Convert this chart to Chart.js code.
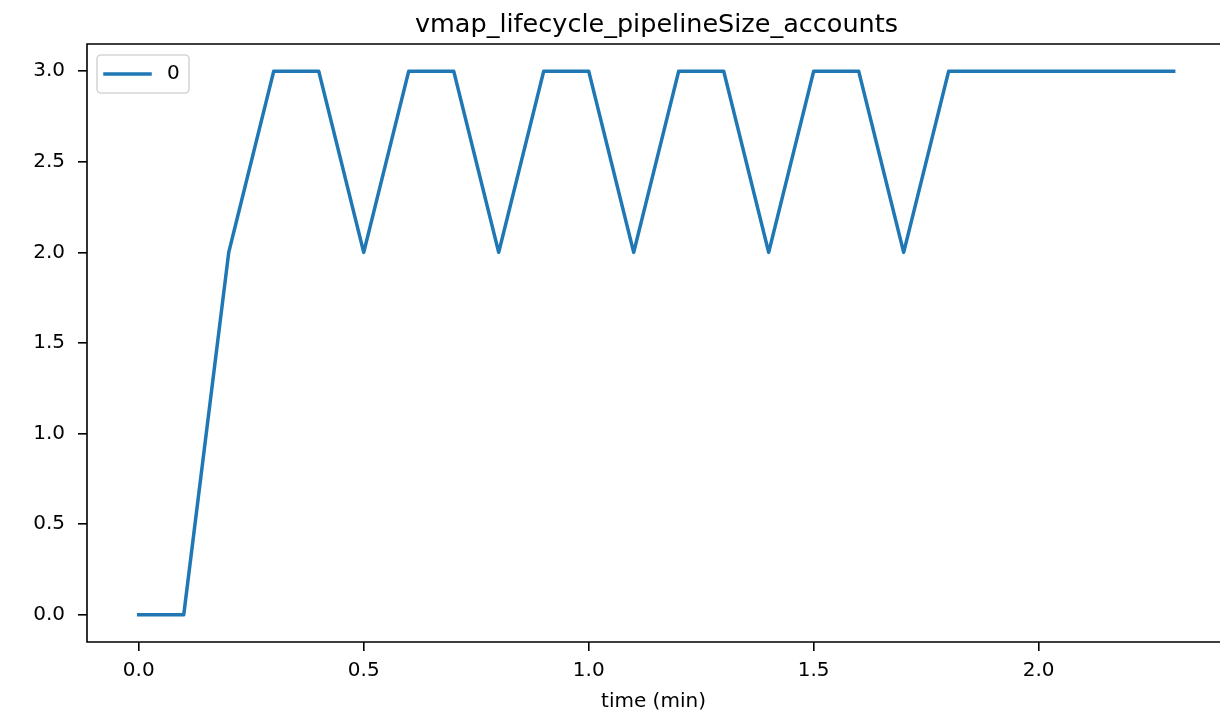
<!DOCTYPE html>
<html>
<head>
<meta charset="utf-8">
<script src="https://cdn.jsdelivr.net/npm/chart.js@4"></script>
<style>
  html, body { margin: 0; padding: 0; background: #fff; overflow: hidden; }
  #wrap { width: 1220px; height: 718px; }
</style>
</head>
<body>
<div id="wrap"><canvas id="chart"></canvas></div>
<script>
const TITLE = 'vmap_lifecycle_pipelineSize_accounts';
const X_LABEL = 'time (min)';
const SERIES_NAME = '0';

// time in minutes, one sample every 0.1 min
const TIMES = [0.0, 0.1, 0.2, 0.3, 0.4, 0.5, 0.6, 0.7, 0.8, 0.9, 1.0, 1.1,
               1.2, 1.3, 1.4, 1.5, 1.6, 1.7, 1.8, 1.9, 2.0, 2.1, 2.2, 2.3];
const SIZES = [0, 0, 2, 3, 3, 2, 3, 3, 2, 3, 3, 2,
               3, 3, 2, 3, 3, 2, 3, 3, 3, 3, 3, 3];

const X_TICKS = [0, 0.5, 1.0, 1.5, 2.0];
const Y_TICKS = [0, 0.5, 1.0, 1.5, 2.0, 2.5, 3.0];

const FONT = 'DejaVu Sans';
const LINE_COLOR = '#1f77b4';

// matplotlib style 5% margins; the original figure is cut off on the right
const xPad = (TIMES[TIMES.length - 1] - TIMES[0]) * 0.05;
const yPad = (Math.max(...SIZES) - Math.min(...SIZES)) * 0.05;
const X_VISIBLE_MAX = 2.403;

const frameAndLegend = {
  id: 'frameAndLegend',
  afterDraw(chart) {
    const { ctx, chartArea: a } = chart;
    ctx.save();

    // keep the right edge clean, the right spine is outside the picture
    ctx.fillStyle = '#fff';
    ctx.fillRect(a.right - 6, a.top + 2, 12, a.bottom - a.top - 4);

    // title centred over the axes
    ctx.fillStyle = '#000';
    ctx.font = '25.5px "' + FONT + '"';
    ctx.textAlign = 'center';
    ctx.textBaseline = 'alphabetic';
    ctx.fillText(TITLE, a.left + (a.right + 6 - a.left) / 2, 32);

    ctx.strokeStyle = '#000';
    ctx.lineWidth = 1.6;
    ctx.beginPath();
    ctx.moveTo(a.right + 2, a.top);
    ctx.lineTo(a.left, a.top);
    ctx.lineTo(a.left, a.bottom);
    ctx.lineTo(a.right + 2, a.bottom);
    ctx.stroke();

    // legend box, upper left
    const bx = a.left + 10, by = a.top + 11, bw = 92, bh = 38;
    ctx.beginPath();
    ctx.roundRect(bx, by, bw, bh, 4);
    ctx.fillStyle = 'rgba(255,255,255,0.8)';
    ctx.fill();
    ctx.strokeStyle = '#d6d6d6';
    ctx.lineWidth = 1.6;
    ctx.stroke();

    const ds = chart.data.datasets[0];
    const cy = by + bh / 2;
    ctx.beginPath();
    ctx.moveTo(bx + 8, cy);
    ctx.lineTo(bx + 53, cy);
    ctx.strokeStyle = ds.borderColor;
    ctx.lineWidth = ds.borderWidth;
    ctx.lineCap = 'square';
    ctx.stroke();

    ctx.fillStyle = '#000';
    ctx.font = '20px "' + FONT + '"';
    ctx.textBaseline = 'middle';
    ctx.textAlign = 'left';
    ctx.fillText(ds.label, bx + 70, cy);
    ctx.restore();
  }
};

new Chart(document.getElementById('chart'), {
  type: 'line',
  data: {
    datasets: [{
      label: SERIES_NAME,
      data: TIMES.map((t, i) => ({ x: t, y: SIZES[i] })),
      borderColor: LINE_COLOR,
      borderWidth: 3.5,
      borderCapStyle: 'square',
      borderJoinStyle: 'round',
      pointRadius: 0,
      tension: 0,
      fill: false
    }]
  },
  options: {
    responsive: true,
    maintainAspectRatio: false,
    animation: false,
    layout: { padding: { left: 0, right: 0, top: 44, bottom: 0 } },
    plugins: {
      legend: { display: false },
      tooltip: { enabled: false },
      title: { display: false }
    },
    scales: {
      x: {
        type: 'linear',
        min: TIMES[0] - xPad,
        max: X_VISIBLE_MAX,
        afterBuildTicks: s => { s.ticks = X_TICKS.map(v => ({ value: v })); },
        afterFit: s => { s.height = 76; },
        grid: { drawOnChartArea: false, drawTicks: true, tickLength: 9, color: '#000', lineWidth: 1.6 },
        border: { display: false },
        ticks: {
          color: '#000',
          padding: 8,
          maxRotation: 0,
          font: { family: FONT, size: 20 },
          callback: v => Number(v).toFixed(1)
        },
        title: {
          display: true,
          text: X_LABEL,
          color: '#000',
          font: { family: FONT, size: 20 },
          padding: { top: 0, bottom: 4 }
        }
      },
      y: {
        type: 'linear',
        min: Math.min(...SIZES) - yPad,
        max: Math.max(...SIZES) + yPad,
        afterBuildTicks: s => { s.ticks = Y_TICKS.map(v => ({ value: v })); },
        afterFit: s => { s.width = 87; },
        grid: { drawOnChartArea: false, drawTicks: true, tickLength: 9, color: '#000', lineWidth: 1.6 },
        border: { display: false },
        ticks: {
          color: '#000',
          padding: 13,
          font: { family: FONT, size: 20 },
          callback: v => Number(v).toFixed(1)
        }
      }
    }
  },
  plugins: [frameAndLegend]
});
</script>
</body>
</html>
